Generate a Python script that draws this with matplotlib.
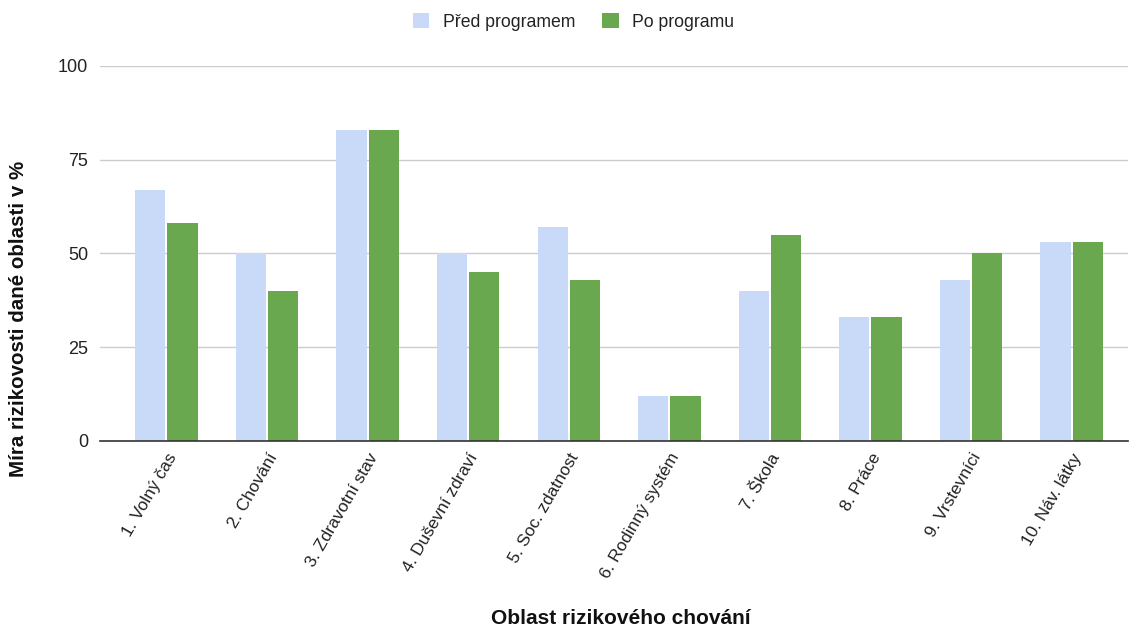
import matplotlib
matplotlib.use("Agg")
import matplotlib.pyplot as plt
import numpy as np

plt.rcParams['font.family'] = ['Liberation Sans', 'DejaVu Sans']

categories = ["1. Volný čas", "2. Chování", "3. Zdravotní stav", "4. Duševní zdraví",
              "5. Soc. zdatnost", "6. Rodinný systém", "7. Škola", "8. Práce",
              "9. Vrstevníci", "10. Náv. látky"]
before = [67, 50, 83, 50, 57, 12, 40, 33, 43, 53]
after = [58, 40, 83, 45, 43, 12, 55, 33, 50, 53]
series_names = ["Před programem", "Po programu"]
yticks = [0, 25, 50, 75, 100]

fig = plt.figure(figsize=(11.29, 6.28), dpi=100)
ax = fig.add_axes([0.0886, 0.2978, 0.9105, 0.5972])

x = np.arange(len(categories))
w = 0.30
off = 0.16
ax.bar(x - off, before, width=w, color="#c9daf8", label=series_names[0], zorder=2)
ax.bar(x + off, after, width=w, color="#6aa84f", label=series_names[1], zorder=2)

ax.set_xlim(-0.66, 9.56)
ax.set_ylim(0, 100)
ax.set_yticks(yticks)
ax.set_yticklabels([str(v) for v in yticks], fontsize=13, color="#222222")
ax.yaxis.grid(True, color="#cccccc", linewidth=1)
ax.set_axisbelow(True)
ax.tick_params(axis="y", length=0, pad=8.5)
ax.tick_params(axis="x", length=0, pad=7)
ax.set_xticks(x)
ax.set_xticklabels(categories, rotation=60, ha="right", rotation_mode="anchor",
                   fontsize=12.4, color="#222222")
for s in ["top", "right", "left"]:
    ax.spines[s].set_visible(False)
ax.spines["bottom"].set_color("#333333")
ax.spines["bottom"].set_linewidth(1.2)
ax.spines["bottom"].set_zorder(3)

fig.text(0.0165, 1 - 319 / 628, "Míra rizikovosti dané oblasti v %", rotation=90,
         ha="center", va="center", fontsize=14.8, fontweight="bold", color="#111111")
fig.text(0.55, 1 - 619 / 628, "Oblast rizikového chování", ha="center", va="center",
         fontsize=15, fontweight="bold", color="#111111")

leg = fig.legend(loc="center", bbox_to_anchor=(0.508, 1 - 22 / 628), ncol=2, frameon=False,
                 fontsize=12.7, handlelength=0.95, handleheight=0.95, columnspacing=1.55,
                 handletextpad=0.75)
for t in leg.get_texts():
    t.set_color("#222222")

fig.savefig("out.png", dpi=100)
